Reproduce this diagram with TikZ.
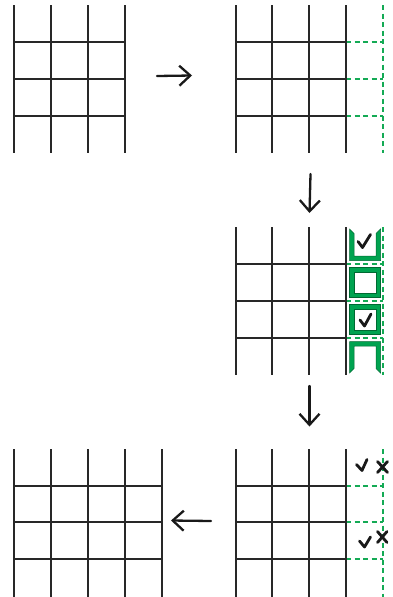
\documentclass[tikz,border=0pt]{standalone}
\usetikzlibrary{arrows.meta}
\definecolor{gline}{RGB}{40,40,40}
\definecolor{gdash}{RGB}{20,170,85}
\definecolor{gfill}{RGB}{0,163,80}
\definecolor{gedge}{RGB}{0,105,50}
\tikzset{
  gridline/.style={draw=gline, line width=1.2pt},
  dashext/.style={draw=gdash, line width=1.2pt, dash pattern=on 5pt off 3.5pt},
  greenbox/.style={fill=gfill, draw=gedge, line width=0.5pt, even odd rule},
  tick/.style={draw=black!90, line width=2.8pt, line cap=round, line join=round},
  flow/.style={draw=black!90, line width=2.3pt, line cap=round,
    -{Straight Barb[length=11pt,width=20pt,line width=2.3pt]}}
}
\begin{document}
\begin{tikzpicture}[x=1pt,y=-1pt]
\useasboundingbox (0,0) rectangle (393,597);
% ---------- grid 1 (top left)
\foreach \x in {14,51,88,125} \draw[gridline] (\x,5) -- (\x,153);
\foreach \y in {42,79,116} \draw[gridline] (14,\y) -- (125,\y);
% ---------- grid 2 (top right)
\foreach \y in {42,79,116} \draw[dashext] (346,\y) -- (383,\y);
\draw[dashext] (383,5) -- (383,153);
\foreach \x in {236,272,309,346} \draw[gridline] (\x,5) -- (\x,153);
\foreach \y in {42,79,116} \draw[gridline] (236,\y) -- (346,\y);
% ---------- grid 3 (middle right)
\foreach \y in {264,301,338} \draw[dashext] (346,\y) -- (383,\y);
\draw[dashext] (383,227) -- (383,375);
\foreach \x in {236,272,309,346} \draw[gridline] (\x,227) -- (\x,375);
\foreach \y in {264,301,338} \draw[gridline] (236,\y) -- (346,\y);
% green cells
\path[greenbox] (349.5,229) -- (349.5,260.5) -- (380.5,260.5) -- (380.5,229)
  -- (376,233.5) -- (376,256) -- (354,256) -- (354,233.5) -- cycle;
\path[greenbox] (349.5,267.5) rectangle (380.5,297.5) (354,272.5) rectangle (376,293);
\path[greenbox] (349.5,304.5) rectangle (380.5,334.5) (354,309.5) rectangle (376,330);
\path[greenbox] (349.5,373) -- (349.5,341.5) -- (380.5,341.5) -- (380.5,373)
  -- (376,368.5) -- (376,346) -- (354,346) -- (354,368.5) -- cycle;
\draw[tick] (358,241.5) -- (362.5,247.5) -- (370.5,234.5);
\draw[tick] (360,320) -- (364.5,326) -- (371,314);
% ---------- grid 4 (bottom right)
\foreach \y in {486,522,559} \draw[dashext] (346,\y) -- (383,\y);
\draw[dashext] (383,449) -- (383,597);
\foreach \x in {236,272,309,346} \draw[gridline] (\x,449) -- (\x,597);
\foreach \y in {486,522,559} \draw[gridline] (236,\y) -- (346,\y);
\draw[tick] (356.5,464.5) -- (362,470.5) -- (367,459.5);
\draw[tick] (359.5,541) -- (364.5,547) -- (370.5,537);
\draw[tick] (377.5,461.5) -- (387.5,472.5) (387.5,461.5) -- (377.5,472.5);
\draw[tick] (377.5,531.5) -- (387,542.5) (387,531.5) -- (377.5,542.5);
% ---------- grid 5 (bottom left)
\foreach \x in {14,51,88,125,162} \draw[gridline] (\x,449) -- (\x,597);
\foreach \y in {486,522,559} \draw[gridline] (14,\y) -- (162,\y);
% ---------- arrows
\coordinate (a1s) at (157,76);  \coordinate (a1e) at (192,75.5);
\coordinate (a2s) at (310.5,174); \coordinate (a2e) at (309.5,213);
\coordinate (a3s) at (309.5,386); \coordinate (a3e) at (309.5,426.5);
\coordinate (a4s) at (211,521);  \coordinate (a4e) at (171,520.5);
\draw[flow] (a1s) -- (a1e);
\draw[flow] (a2s) -- (a2e);
\draw[flow] (a3s) -- (a3e);
\draw[flow] (a4s) -- (a4e);
\end{tikzpicture}
\end{document}
